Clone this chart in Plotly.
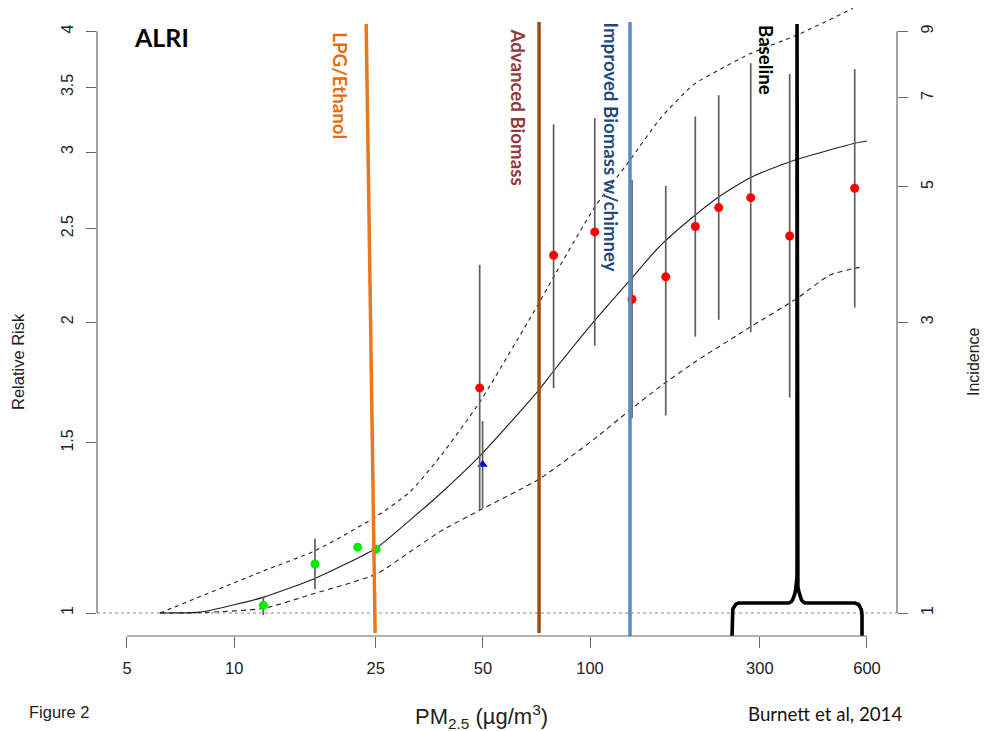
import math
import plotly.graph_objects as go

# ---------------- data ----------------
# red study points (PM2.5 µg/m3, relative risk, 95% CI)
red_pm = [48.97, 79.0, 103.1, 131.2, 163.2, 197.6, 229.9, 282.8, 363.9, 554.2]
red_rr = [1.710, 2.346, 2.480, 2.112, 2.228, 2.512, 2.628, 2.691, 2.456, 2.752]
red_lo = [1.278, 1.709, 1.891, 1.591, 1.601, 1.932, 2.011, 1.953, 1.671, 2.071]
red_hi = [2.293, 3.206, 3.252, 2.807, 2.767, 3.265, 3.435, 3.707, 3.614, 3.655]

# green study points
green_pm = [12.08, 16.87, 22.24, 25.04]
green_rr = [1.0185, 1.124, 1.170, 1.164]
green_lo = [0.995, 1.059, 1.170, 1.164]
green_hi = [1.040, 1.194, 1.170, 1.164]

# blue study point
blue_pm = [49.9]
blue_rr = [1.425]
blue_lo = [1.284]
blue_hi = [1.580]

# integrated exposure-response curve and its bounds
curve_pm = [6.19, 8.0, 10.0, 12.05, 16.87, 25.03, 31.2, 37.88, 49.9, 71.88, 78.7,
            103.3, 129.5, 157.2, 197.6, 230.3, 283.4, 364.7, 554.2, 600.0]
curve_rr = [1.000, 1.002, 1.020, 1.038, 1.086, 1.167, 1.248, 1.328, 1.464, 1.702, 1.777,
            2.010, 2.211, 2.398, 2.582, 2.697, 2.825, 2.932, 3.063, 3.080]

upper_pm = [6.19, 12.05, 16.87, 25.03, 31.2, 37.88, 49.08, 71.88, 78.7, 103.3, 129.5,
            157.2, 194.7, 230.3, 283.4, 381.6, 548.2]
upper_rr = [1.000, 1.105, 1.160, 1.258, 1.335, 1.451, 1.655, 2.094, 2.222, 2.634, 2.943,
            3.246, 3.519, 3.648, 3.796, 3.965, 4.225]

lower_pm = [6.19, 8.0, 12.05, 16.87, 25.03, 31.2, 37.88, 49.08, 71.88, 103.3, 129.5,
            157.2, 197.6, 283.4, 381.6, 472.3, 554.2, 588.7]
lower_rr = [1.000, 1.001, 1.011, 1.048, 1.097, 1.157, 1.214, 1.278, 1.376, 1.516, 1.622,
            1.715, 1.820, 1.979, 2.117, 2.238, 2.274, 2.283]

# intervention exposure levels (µg/m3)
interventions = ["LPG/Ethanol", "Advanced Biomass", "Improved Biomass w/chimney", "Baseline"]
lpg_pm_top, lpg_pm_bottom = 23.5, 24.9
advanced_pm = 71.9
improved_pm = 129.5
baseline_pm = 381.6
baseline_range = [250.6, 581.0]

# axis ticks
x_ticks = [5, 10, 25, 50, 100, 300, 600]
y_ticks = [1, 1.5, 2, 2.5, 3, 3.5, 4]
inc_ticks = [1, 3, 5, 7, 9]

# ---------------- layout geometry ----------------
W, H = 984, 731
ML, MR, MT, MB = 97, 87, 8, 95
PW, PH = W - ML - MR, H - MT - MB
X_RANGE = [0.6147, 2.8625]
Y_RANGE = [-0.0238, 0.6262]
INC_K = math.log(9) / math.log(4)
Y2_RANGE = [v * INC_K for v in Y_RANGE]

px_per_dec_x = PW / (X_RANGE[1] - X_RANGE[0])
px_per_dec_y = PH / (Y_RANGE[1] - Y_RANGE[0])


def px_x(p):
    return (p - ML) / PW


def px_y(p):
    return (H - MB - p) / PH


def y_from_pix(dpix, base):
    return base * 10 ** (dpix / px_per_dec_y)


def x_from_pix(dpix, base):
    return base * 10 ** (dpix / px_per_dec_x)


LINE_TOP = y_from_pix(589, 1.0)
LINE_BOTTOM = y_from_pix(-20, 1.0)
PLOT_BOTTOM = 10 ** Y_RANGE[0]

fig = go.Figure()

AX_FONT = "Liberation Sans, Arial, sans-serif"
PPT_FONT = "Lato, Open Sans, sans-serif"
ERR = dict(type="data", symmetric=False, color="#5e5e5e", thickness=1.7, width=0)

# curves
fig.add_trace(go.Scatter(x=upper_pm, y=upper_rr, mode="lines",
                         line=dict(color="#222", width=1.1, dash="4px,4px", shape="spline", smoothing=0.6)))
fig.add_trace(go.Scatter(x=lower_pm, y=lower_rr, mode="lines",
                         line=dict(color="#222", width=1.1, dash="5px,4px", shape="spline", smoothing=0.6)))
fig.add_trace(go.Scatter(x=curve_pm, y=curve_rr, mode="lines",
                         line=dict(color="#222", width=1.1, shape="spline", smoothing=0.6)))


# study points with intervals
def add_points(xs, ys, lo, hi, color, symbol):
    fig.add_trace(go.Scatter(
        x=xs, y=ys, mode="markers",
        marker=dict(color=color, size=9, symbol=symbol, line=dict(width=0)),
        error_y=dict(ERR, array=[h - y for h, y in zip(hi, ys)],
                     arrayminus=[y - l for y, l in zip(ys, lo)]),
    ))


add_points(green_pm, green_rr, green_lo, green_hi, "#00ee00", "circle")
add_points(blue_pm, blue_rr, blue_lo, blue_hi, "#0000ff", "triangle-up")
add_points(red_pm, red_rr, red_lo, red_hi, "#ff0000", "circle")

# intervention lines
fig.add_trace(go.Scatter(x=[lpg_pm_top, lpg_pm_bottom], y=[LINE_TOP, LINE_BOTTOM], mode="lines",
                         line=dict(color="#E8771E", width=3.5)))
fig.add_trace(go.Scatter(x=[advanced_pm, advanced_pm], y=[y_from_pix(591, 1.0), LINE_BOTTOM], mode="lines",
                         line=dict(color="#9E4F10", width=3.5)))
fig.add_trace(go.Scatter(x=[improved_pm, improved_pm], y=[y_from_pix(591, 1.0), PLOT_BOTTOM], mode="lines",
                         line=dict(color="#5B8BC7", width=3.5)))

# baseline line with brace
lvl = y_from_pix(10, 1.0)
bx, by = [], []
left, right = baseline_range
bx += [left]
by += [PLOT_BOTTOM]
rcx, rcy = 7, 12
for i in range(0, 11):
    t = math.pi / 2 * i / 10
    bx.append(x_from_pix(rcx - rcx * math.cos(t), left))
    by.append(y_from_pix(-rcy + rcy * math.sin(t), lvl))
rux, ruy = 8, 30
for i in range(0, 11):
    t = math.pi / 2 * i / 10
    bx.append(x_from_pix(-rux + rux * math.sin(t), baseline_pm))
    by.append(y_from_pix(ruy - ruy * math.cos(t), lvl))
bx.append(baseline_pm)
by.append(LINE_TOP)
bx.append(baseline_pm)
by.append(y_from_pix(ruy, lvl))
for i in range(10, -1, -1):
    t = math.pi / 2 * i / 10
    bx.append(x_from_pix(rux - rux * math.sin(t), baseline_pm))
    by.append(y_from_pix(ruy - ruy * math.cos(t), lvl))
for i in range(10, -1, -1):
    t = math.pi / 2 * i / 10
    bx.append(x_from_pix(-rcx + rcx * math.cos(t), right))
    by.append(y_from_pix(-rcy + rcy * math.sin(t), lvl))
bx.append(right)
by.append(PLOT_BOTTOM)
fig.add_trace(go.Scatter(x=bx, y=by, mode="lines", line=dict(color="#000", width=3.6)))

# ---------------- axes ----------------
x_tick_font = dict(family=AX_FONT, size=16.5, color="#222")
y_tick_font = dict(family=AX_FONT, size=16, color="#222")
fig.update_layout(
    width=W, height=H,
    margin=dict(l=ML, r=MR, t=MT, b=MB, pad=0),
    paper_bgcolor="white", plot_bgcolor="white",
    showlegend=False,
    xaxis=dict(type="log", range=X_RANGE, tickvals=x_ticks, ticktext=[str(v) for v in x_ticks],
               ticks="outside", ticklen=11, tickwidth=1, tickcolor="#666",
               showline=False, showgrid=False, zeroline=False, tickfont=x_tick_font,
               ticklabelstandoff=6),
    yaxis=dict(type="log", range=Y_RANGE, tickvals=y_ticks, ticktext=[str(v) for v in y_ticks],
               ticks="outside", ticklen=10, tickwidth=1, tickcolor="#666", tickangle=-90,
               showline=False, showgrid=False, zeroline=False, tickfont=y_tick_font,
               ticklabelstandoff=7),
    yaxis2=dict(type="log", range=Y2_RANGE, overlaying="y", side="right",
                tickvals=inc_ticks, ticktext=[str(v) for v in inc_ticks],
                ticks="outside", ticklen=10, tickwidth=1, tickcolor="#666", tickangle=-90,
                showline=False, showgrid=False, zeroline=False, tickfont=y_tick_font,
                ticklabelstandoff=6),
)

# invisible trace to activate the incidence axis
fig.add_trace(go.Scatter(x=[curve_pm[0]], y=[1], yaxis="y2", mode="markers",
                         marker=dict(opacity=0), hoverinfo="skip"))

shapes = [
    dict(type="line", xref="paper", yref="y", x0=0, x1=1, y0=1, y1=1, layer="below",
         line=dict(color="#8a8a8a", width=1, dash="dot")),
    dict(type="line", xref="x", yref="paper", x0=x_ticks[0], x1=x_ticks[-1], y0=0, y1=0,
         line=dict(color="#666", width=1.2)),
    dict(type="line", xref="paper", yref="y", x0=0, x1=0, y0=y_ticks[0], y1=y_ticks[-1],
         line=dict(color="#666", width=1.2)),
    dict(type="line", xref="paper", yref="y2", x0=1, x1=1, y0=inc_ticks[0], y1=inc_ticks[-1],
         line=dict(color="#666", width=1.2)),
]
fig.update_layout(shapes=shapes)

ann = []
label_specs = [
    (interventions[0], lpg_pm_top, -26, 31, "#E46C0A"),
    (interventions[1], advanced_pm, -21, 27, "#953735"),
    (interventions[2], improved_pm, -18, 22, "#1F497D"),
    (interventions[3], baseline_pm, -31, 24, "#000000"),
]
for text, pm, xs, top, col in label_specs:
    ann.append(dict(text="<b>%s</b>" % text, x=math.log10(pm), xref="x", xshift=xs,
                    y=px_y(top), yref="paper", yanchor="top", xanchor="center",
                    textangle=90, showarrow=False, borderpad=0,
                    font=dict(family=PPT_FONT, size=18.7, color=col)))

ann += [
    dict(text="<b>ALRI</b>", x=px_x(133), y=px_y(21), xref="paper", yref="paper",
         xanchor="left", yanchor="top", showarrow=False, borderpad=0,
         font=dict(family=PPT_FONT, size=25, color="#000")),
    dict(text="Relative Risk", x=px_x(18), y=px_y(362), xref="paper", yref="paper",
         xanchor="center", yanchor="middle",
         textangle=-90, showarrow=False, font=dict(family=AX_FONT, size=16.5, color="#222")),
    dict(text="Incidence", x=px_x(973), y=px_y(362), xref="paper", yref="paper",
         xanchor="center", yanchor="middle", borderpad=0,
         textangle=-90, showarrow=False, font=dict(family=AX_FONT, size=16, color="#222")),
    dict(text="PM<sub>2.5</sub> (µg/m<sup>3</sup>)", x=px_x(481), y=px_y(716), xref="paper",
         yref="paper", xanchor="center", yanchor="middle", showarrow=False,
         font=dict(family=AX_FONT, size=22, color="#222")),
    dict(text="Figure 2", x=px_x(27), y=px_y(712), xref="paper", yref="paper", xanchor="left",
         yanchor="middle", showarrow=False, font=dict(family=AX_FONT, size=16.5, color="#222")),
    dict(text="Burnett et al, 2014", x=px_x(746), y=px_y(714), xref="paper", yref="paper",
         xanchor="left", yanchor="middle", showarrow=False,
         font=dict(family=PPT_FONT, size=18.7, color="#111")),
]
fig.update_layout(annotations=ann)

fig.write_html("out.html", config={"displayModeBar": False},
               post_script="document.body.style.margin='0';document.body.style.overflow='hidden';")
